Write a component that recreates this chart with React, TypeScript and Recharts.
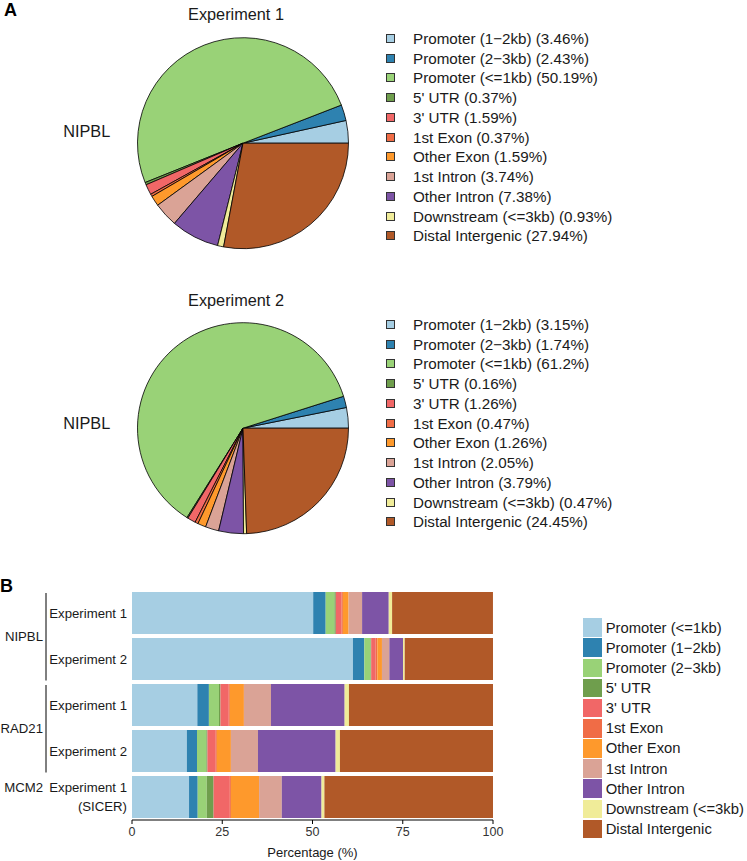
import { PieChart, Pie, Cell, Legend, BarChart, Bar, XAxis, YAxis, Label } from "recharts";

const FONT = '"Liberation Sans", Arial, Helvetica, sans-serif';
const INK = "#1a1a1a";

// ChIPseeker default colours (Paired palette stretched to 11 classes)
const PALETTE = [
  "#A6CEE3", "#2E82B0", "#99D277", "#6F9E4D", "#F16767", "#F06C46",
  "#FE992C", "#DAA396", "#7D54A6", "#F0EC99", "#B15928",
];

// Panel A: pie order as in the legend
const PIE_FEATURES = [
  "Promoter (1−2kb)", "Promoter (2−3kb)", "Promoter (<=1kb)", "5' UTR", "3' UTR",
  "1st Exon", "Other Exon", "1st Intron", "Other Intron", "Downstream (<=3kb)", "Distal Intergenic",
];
const PIE_EXP1 = [3.46, 2.43, 50.19, 0.37, 1.59, 0.37, 1.59, 3.74, 7.38, 0.93, 27.94];
const PIE_EXP2 = [3.15, 1.74, 61.2, 0.16, 1.26, 0.47, 1.26, 2.05, 3.79, 0.47, 24.45];

// Panel B: stacked bars, one array per sample in BAR_FEATURES order
const BAR_FEATURES = [
  "Promoter (<=1kb)", "Promoter (1−2kb)", "Promoter (2−3kb)", "5' UTR", "3' UTR",
  "1st Exon", "Other Exon", "1st Intron", "Other Intron", "Downstream (<=3kb)", "Distal Intergenic",
];
const BAR_FACTORS = ["NIPBL", "NIPBL", "RAD21", "RAD21", "MCM2"];
const BAR_SAMPLES = ["Experiment 1", "Experiment 2", "Experiment 1", "Experiment 2", "Experiment 1\n(SICER)"];
const NIPBL_EXP1 = [50.19, 3.46, 2.43, 0.37, 1.59, 0.37, 1.59, 3.74, 7.38, 0.93, 27.94];
const NIPBL_EXP2 = [61.2, 3.15, 1.74, 0.16, 1.26, 0.47, 1.26, 2.05, 3.79, 0.47, 24.45];
const RAD21_EXP1 = [18.1, 3.2, 2.8, 0.4, 2.3, 0.3, 3.9, 7.5, 20.4, 1.2, 39.9];
const RAD21_EXP2 = [15.2, 2.8, 2.6, 0.3, 2.3, 0.3, 3.9, 7.5, 21.5, 1.2, 42.4];
const MCM2_EXP1 = [15.8, 2.4, 2.5, 1.9, 4.5, 0.3, 7.8, 6.3, 11.0, 0.8, 46.7];
const BAR_VALUES = [NIPBL_EXP1, NIPBL_EXP2, RAD21_EXP1, RAD21_EXP2, MCM2_EXP1];
const X_TICKS = [0, 25, 50, 75, 100];

const W = 747;
const PIE_H = 286;
const BAR_TOP = 560;
const BAR_H = 301;
const BAR_MARGIN = { top: 30, right: 254, bottom: 0, left: 0 };
const X_AXIS_H = 41;
const BAND = (BAR_H - BAR_MARGIN.top - X_AXIS_H) / BAR_SAMPLES.length;

const rowKeys = BAR_SAMPLES.map((s, i) => `${BAR_FACTORS[i]} ${s}`);
const barData = rowKeys.map((row, r) => {
  const d: Record<string, string | number> = { row };
  BAR_FEATURES.forEach((_, i) => (d[`f${i}`] = BAR_VALUES[r][i]));
  return d;
});

// legend keeps the feature order, not the alphabetical one
function inOrder(payload: any[], order: string[]) {
  return [...(payload || [])].sort((a, b) => order.indexOf(a.value) - order.indexOf(b.value));
}

function pieLegend(values: number[]) {
  return ({ payload }: any) => (
    <div style={{ fontFamily: FONT, fontSize: 15.2, color: INK }}>
      {inOrder(payload, PIE_FEATURES).map((entry: any) => {
        const idx = PIE_FEATURES.indexOf(entry.value);
        return (
          <div key={entry.value} style={{ display: "flex", alignItems: "center", height: 19.75, whiteSpace: "nowrap" }}>
            <span
              style={{
                display: "inline-block",
                width: 9,
                height: 9,
                boxSizing: "border-box",
                border: "1px solid #333",
                background: PALETTE[idx],
                marginRight: 18.5,
              }}
            />
            <span>{`${entry.value} (${values[idx]}%)`}</span>
          </div>
        );
      })}
    </div>
  );
}

function AnnoPie({ title, values, top, cy, titleY, labelY, letter }: any) {
  const data = PIE_FEATURES.map((name, i) => ({ name, value: values[i] }));
  return (
    <div style={{ position: "absolute", left: 0, top }}>
      <PieChart width={W} height={PIE_H}>
        <Pie
          data={data}
          dataKey="value"
          nameKey="name"
          cx={238}
          cy={cy}
          outerRadius={105.5}
          startAngle={0}
          endAngle={360}
          stroke="#000"
          strokeWidth={0.8}
          isAnimationActive={false}
        >
          {data.map((d, i) => (
            <Cell key={d.name} fill={PALETTE[i]} />
          ))}
        </Pie>
        <Legend
          layout="vertical"
          align="center"
          verticalAlign="middle"
          wrapperStyle={{ left: 385.5, top: 28.4, width: 330 }}
          content={pieLegend(values)}
        />
        {letter && (
          <text x={4} y={16} fontFamily={FONT} fontWeight="bold" fontSize={18} fill="#000">
            {letter}
          </text>
        )}
        <text x={236} y={titleY} textAnchor="middle" fontFamily={FONT} fontSize={16.3} fill={INK}>
          {title}
        </text>
        <text x={86.7} y={labelY} textAnchor="middle" fontFamily={FONT} fontSize={16.3} fill={INK}>
          NIPBL
        </text>
      </PieChart>
    </div>
  );
}

function RowTick({ x, y, payload }: any) {
  const i = rowKeys.indexOf(payload.value);
  if (i < 0) return null;
  const lines = BAR_SAMPLES[i].split("\n");
  const factor = BAR_FACTORS[i];
  const isFirst = BAR_FACTORS.indexOf(factor) === i;
  const span = BAR_FACTORS.filter((f) => f === factor).length;
  const lineH = 19;
  const y0 = y - ((lines.length - 1) * lineH) / 2;
  const groupY = span > 1 ? y + ((span - 1) * BAND) / 2 : y0;
  return (
    <g>
      {lines.map((t, k) => (
        <text
          key={k}
          x={x}
          y={y0 + k * lineH}
          dy="0.35em"
          textAnchor="end"
          fontFamily={FONT}
          fontSize={13.2}
          fill={INK}
        >
          {t}
        </text>
      ))}
      {isFirst && (
        <text x={43} y={groupY} dy="0.35em" textAnchor="end" fontFamily={FONT} fontSize={13.2} fill={INK}>
          {factor}
        </text>
      )}
      {isFirst && span > 1 && (
        <line
          x1={46}
          x2={46}
          y1={y - BAND / 2 + 3}
          y2={y + (span - 1) * BAND + BAND / 2 - 1.5}
          stroke="#000"
          strokeWidth={1}
        />
      )}
    </g>
  );
}

function BarLegend({ payload }: any) {
  return (
    <div style={{ fontFamily: FONT, fontSize: 14.8, color: INK }}>
      {inOrder(payload, BAR_FEATURES).map((entry: any) => (
        <div key={entry.value} style={{ display: "flex", alignItems: "center", height: 20.15, whiteSpace: "nowrap" }}>
          <span style={{ display: "inline-block", width: 19, height: 18.5, background: entry.color, marginRight: 3.7 }} />
          <span>{entry.value}</span>
        </div>
      ))}
    </div>
  );
}

export default function App() {
  return (
    <div style={{ position: "absolute", left: 0, top: 0, width: W, height: 861, background: "#fff" }}>
      <AnnoPie title="Experiment 1" values={PIE_EXP1} top={0} cy={138.2} titleY={20} labelY={136.7} letter="A" />
      <AnnoPie title="Experiment 2" values={PIE_EXP2} top={PIE_H} cy={137.2} titleY={19.5} labelY={143.3} />
      <div style={{ position: "absolute", left: 0, top: BAR_TOP }}>
        <BarChart
          layout="vertical"
          width={W}
          height={BAR_H}
          data={barData}
          margin={BAR_MARGIN}
          barCategoryGap={2}
        >
          <XAxis
            type="number"
            domain={[0, 100]}
            ticks={X_TICKS}
            height={X_AXIS_H}
            tickSize={4}
            tickMargin={3}
            stroke="#000"
            tick={{ fill: "#333", fontSize: 12.5, fontFamily: FONT }}
          >
            <Label
              value="Percentage (%)"
              position="insideBottom"
              offset={4}
              style={{ fontFamily: FONT, fontSize: 13, fill: INK }}
            />
          </XAxis>
          <YAxis
            type="category"
            dataKey="row"
            width={132}
            axisLine={false}
            tickLine={false}
            tickSize={0}
            tickMargin={5}
            interval={0}
            tick={<RowTick />}
          />
          {BAR_FEATURES.map((f, i) => (
            <Bar key={f} dataKey={`f${i}`} name={f} stackId="anno" fill={PALETTE[i]} isAnimationActive={false} />
          ))}
          <Legend
            layout="vertical"
            align="center"
            verticalAlign="middle"
            wrapperStyle={{ left: 583, top: 57.5, width: 164 }}
            content={BarLegend}
          />
          <text x={0} y={32} fontFamily={FONT} fontWeight="bold" fontSize={18} fill="#000">
            B
          </text>
        </BarChart>
      </div>
    </div>
  );
}
